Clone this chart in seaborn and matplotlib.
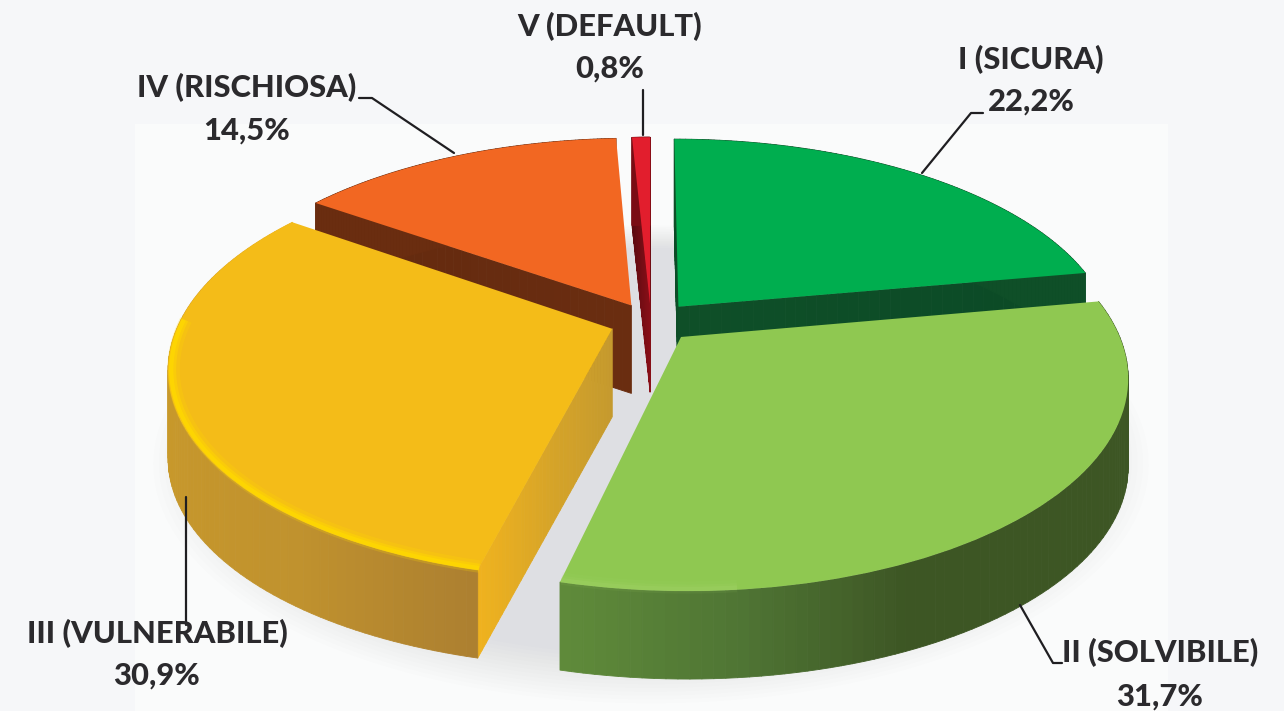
import numpy as np
import matplotlib
matplotlib.use("Agg")
import matplotlib.pyplot as plt
import seaborn as sns
from matplotlib.collections import PolyCollection
from matplotlib.patches import Rectangle
from matplotlib.transforms import Transform

# data
classes = ["I (SICURA)", "II (SOLVIBILE)", "III (VULNERABILE)", "IV (RISCHIOSA)", "V (DEFAULT)"]
shares = [22.2, 31.7, 30.9, 14.5, 0.8]

# colours
top_colors = ["#00ae4f", "#8fc851", "#f4bc18", "#f26722", "#e21e2d"]
outer_walls = [["#0f4f28", "#0f4f28"],
               ["#5f8a3a", "#4f7534", "#3d5624", "#3d5624", "#3d5624", "#3d5624", "#3f5c24"],
               ["#f0b41c", "#d9a426", "#c99a2b", "#c5962c", "#c0922e", "#ad8030"],
               ["#6a2d10", "#6a2d10"],
               ["#7a0c14", "#7a0c14"]]
cut_walls = [["#0f4f28", "#0b4a26"], ["#628f3c", "#628f3c"], ["#c59a2e", "#d6a428", "#efb21f"],
             ["#6a2d10", "#632a0f"], ["#8a0f18", "#5c0a10"]]
rim_colors = [None, "#a6d56b", "#ffd900", None, None]

# projection of the pie plane
CX, CY = 651, 322
RX, RY = 433, 202.6
DEPTH = 0.179
HEIGHT = 88


def project(x, y, z=0.0):
    w = 1 + DEPTH * y
    return np.column_stack([CX + RX * x / w, CY - RY * y / w + HEIGHT * z])


class Tilt(Transform):
    input_dims = output_dims = 2
    is_separable = False
    has_inverse = False

    def transform_non_affine(self, values):
        values = np.asarray(values)
        return project(values[:, 0], values[:, 1])


sns.set_theme(style="white")
fig, ax = plt.subplots(figsize=(12.84, 7.11), dpi=100)
fig.patch.set_facecolor("#f6f7f9")
fig.subplots_adjust(0, 0, 1, 1)

explode = [0.1, 0.1, 0.095, 0.095, 0.09]
wedges, _ = ax.pie(shares, colors=sns.color_palette(top_colors), startangle=90,
                   counterclock=False, explode=explode, wedgeprops={"linewidth": 0})
ax.set(xlim=(0, 1284), ylim=(711, 0), aspect="auto")
ax.set_axis_off()
ax.add_patch(Rectangle((135, 124), 1033, 600, color="#fafbfb", lw=0, zorder=0))

# soft shadow below the pie
t = np.linspace(0, 2 * np.pi, 240)
for k in range(14):
    r = 1.12 - 0.012 * k
    ax.fill(*project(r * np.cos(t), r * np.sin(t) - 0.03, 1.0).T, color="#5a6068", alpha=0.009, lw=0, zorder=1)

order = np.argsort([-(np.sin(np.radians((w.theta1 + w.theta2) / 2)) + w.center[1]) for w in wedges])
tilt = Tilt()
for z, i in enumerate(order):
    w = wedges[i]
    base = 2 + 2 * z
    cx, cy = w.center
    th = np.radians(np.linspace(w.theta1, w.theta2, 90))
    x, y = cx + np.cos(th), cy + np.sin(th)

    # the two cut faces, only those turned to the viewer
    for a, normal in ((th[0], th[0] - np.pi / 2), (th[-1], th[-1] + np.pi / 2)):
        if np.sin(normal) > 0.02:
            continue
        s = np.linspace(0, 1, 40)
        px, py = cx + s * np.cos(a), cy + s * np.sin(a)
        up, down = project(px, py, 0), project(px, py, 1)
        quads = [[up[j], up[j + 1], down[j + 1], down[j]] for j in range(len(s) - 1)]
        pal = sns.blend_palette(cut_walls[i], n_colors=len(quads))
        ax.add_collection(PolyCollection(quads, facecolors=pal, edgecolors=pal, linewidths=0.6, zorder=base))

    # outer wall, colours run from the screen left to the right of the slice
    up, down = project(x, y, 0), project(x, y, 1)
    quads = [[up[j], up[j + 1], down[j + 1], down[j]] for j in range(len(th) - 1)]
    pal = sns.blend_palette(outer_walls[i], n_colors=len(quads))
    ax.add_collection(PolyCollection(quads, facecolors=pal, edgecolors=pal, linewidths=0.6, zorder=base))

    # top face
    w.set_transform(tilt + ax.transData)
    w.set_zorder(base + 1)

    # rim light
    if rim_colors[i]:
        front = np.sin(th) < 0.05 if i == 2 else np.cos(th) < 0.1
        for width, alpha, r in [(9, 0.22, 0.988), (5, 0.45, 0.99), (3, 0.75, 0.993)]:
            pts = project(cx + r * np.cos(th[front]), cy + r * np.sin(th[front]))
            ax.plot(pts[:, 0], pts[:, 1], color=rim_colors[i], lw=width, alpha=alpha if i == 2 else alpha * 0.35,
                    solid_capstyle="butt", zorder=base + 1.5)

# labels
label_pos = [(1031, 60, 102), (1160, 653, 697), (157, 634, 676), (247, 88, 131), (610, 27, 69)]
for name, share, (lx, y1, y2) in zip(classes, shares, label_pos):
    ax.text(lx, y1, name, ha="center", va="center", fontsize=22.2, fontweight=900,
            family="Lato", color="#2b2a2d", zorder=30)
    ax.text(lx, y2, f"{share:.1f}".replace(".", ",") + "%", ha="center", va="center", fontsize=22.2,
            fontweight=900, family="Lato", color="#2b2a2d", zorder=30)

# leader lines
leaders = [([922, 971, 983], [173, 113, 113]),
           ([1020, 1053, 1062], [605, 663, 663]),
           ([186, 186], [497, 625]),
           ([454, 372, 359], [153, 98, 98]),
           ([643, 643], [90, 135])]
for lx, ly in leaders:
    ax.plot(lx, ly, color="#1f1e21", lw=1.6, zorder=25)

fig.savefig("out.png", dpi=100, facecolor=fig.get_facecolor())
